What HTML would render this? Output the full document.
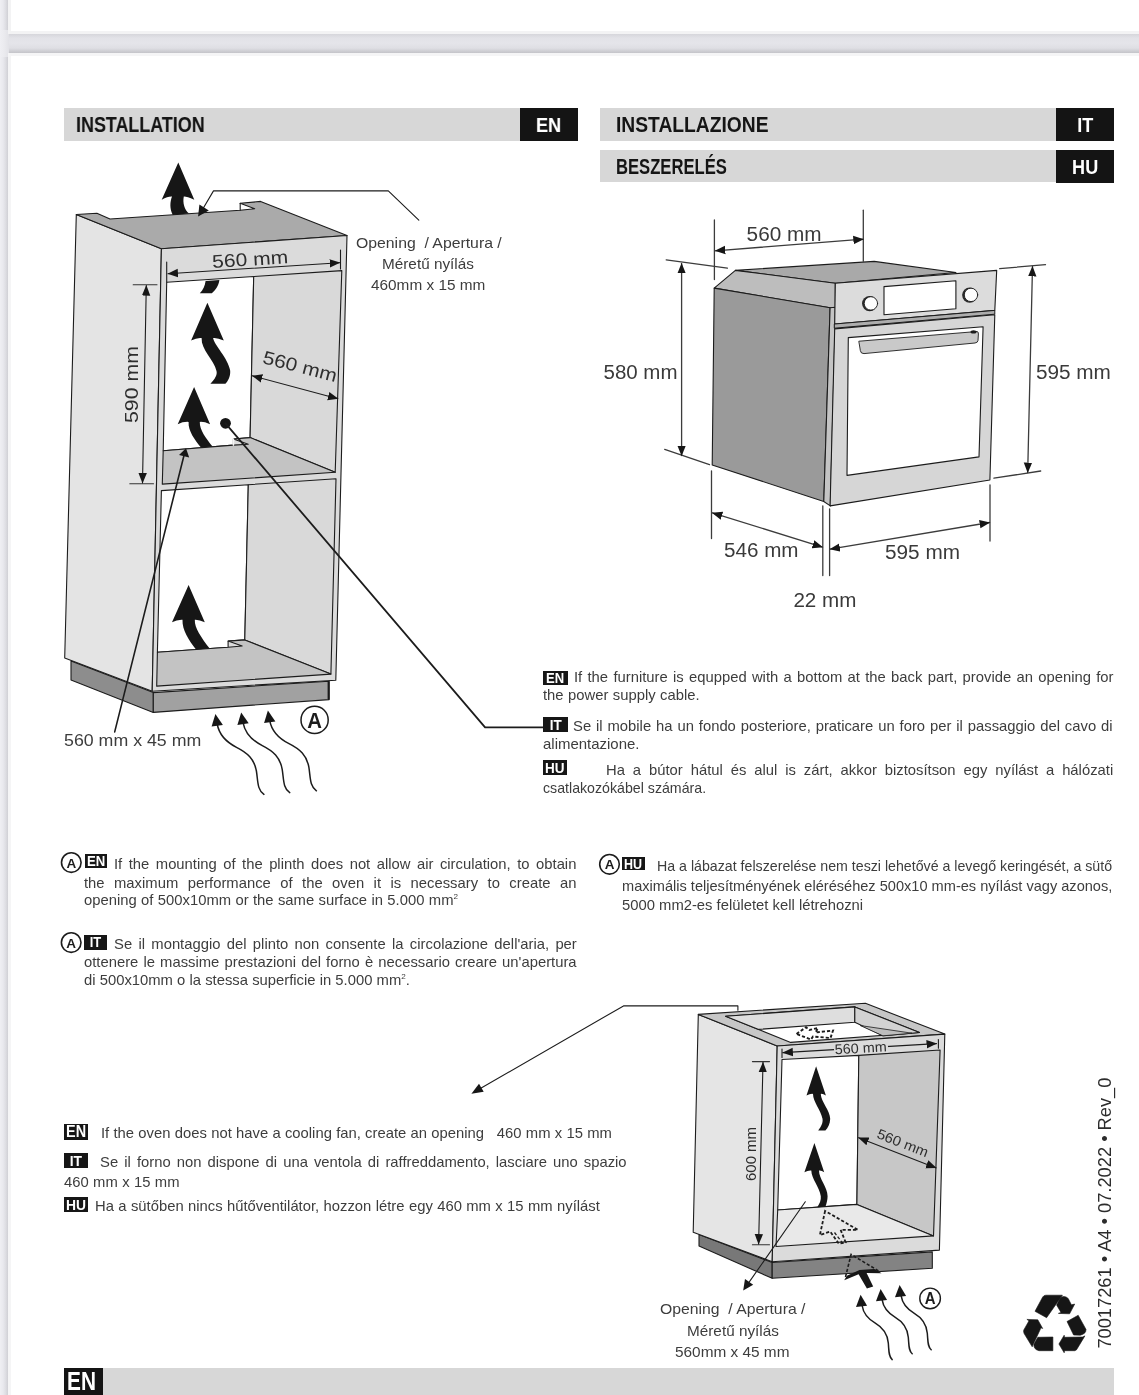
<!DOCTYPE html>
<html lang="en">
<head>
<meta charset="utf-8">
<title>Installation</title>
<style>
html,body{margin:0;padding:0;}
body{width:1139px;height:1395px;overflow:hidden;position:relative;background:#e7e7ec;font-family:"Liberation Sans",sans-serif;color:#3c3c3c;}
.pg{position:absolute;background:#fff;}
#pg1{left:8px;top:-20px;width:1140px;height:54px;box-shadow:0 0 0 0 #000;}
#pg2{left:8px;top:53px;width:1140px;height:1400px;}
.sh{position:absolute;pointer-events:none;}
.bar{position:absolute;background:#d7d7d7;height:33px;}
.bar b{position:absolute;left:13px;top:0;line-height:33px;font-size:22px;font-weight:bold;color:#151515;white-space:nowrap;transform-origin:0 50%;}
.tag{position:absolute;right:0;top:0;width:58px;height:33px;background:#141414;color:#fff;font-weight:bold;font-size:21px;line-height:33px;text-align:center;}
.tag span{display:inline-block;transform:scaleX(.86);}
.ln{position:absolute;white-space:nowrap;font-size:14.6px;line-height:20px;height:20px;color:#3d3d3d;transform-origin:0 0;}
.bd{position:absolute;background:#161616;color:#fff;font-weight:bold;font-size:13.5px;text-align:center;overflow:hidden;}
.bd span{display:inline-block;transform-origin:50% 50%;}
.ln sup{font-size:8px;line-height:0;vertical-align:6px;}
#content{position:absolute;left:0;top:0;width:1139px;height:1395px;filter:grayscale(1);}
svg{position:absolute;left:0;top:0;}
</style>
</head>
<body>
<div class="sh" style="left:0;top:0;width:8px;height:1395px;background:linear-gradient(to right,#efeff3 0,#e9e9ee 3px,#dcdce1 6px,#cfcfd4 8px);"></div>
<div class="sh" style="left:8px;top:34px;width:1131px;height:19px;background:linear-gradient(to bottom,#d6d6db 0,#e2e2e7 4px,#e5e5ea 9px,#dfdfe4 14px,#c4c4c9 19px);"></div>
<div class="sh" style="left:0;top:30px;width:9px;height:27px;background:linear-gradient(to right,#efeff3 0,#ebebef 4px,#e2e2e7 9px);"></div>
<div class="pg" id="pg1" style="border:3px solid #f3f3f4;box-sizing:border-box;"></div>
<div class="pg" id="pg2" style="border:3px solid #f5f5f6;box-sizing:border-box;"></div>
<div id="content">
<div class="bar" style="left:63.5px;top:107.6px;width:514.5px;"><b id="h1" style="left:12.8px;transform:scaleX(0.8136);">INSTALLATION</b><div class="tag"><span>EN</span></div></div>
<div class="bar" style="left:599.5px;top:107.6px;width:514.5px;"><b id="h2" style="left:16.4px;transform:scaleX(0.8746);">INSTALLAZIONE</b><div class="tag"><span>IT</span></div></div>
<div class="bar" style="left:599.5px;top:149.6px;width:514.5px;height:32.5px;"><b id="h3" style="left:16.4px;transform:scaleX(0.7559);">BESZERELÉS</b><div class="tag"><span>HU</span></div></div>
<div class="bar" style="left:63.5px;top:1367.5px;width:1050.5px;height:30px;"><div class="tag" style="left:0;right:auto;width:39px;height:30px;font-size:26px;line-height:27px;"><span style="transform:translateX(-1.5px) scaleX(.8);">EN</span></div></div>
<svg width="1139" height="1395" viewBox="0 0 1139 1395">
<defs>
<marker id="ah" viewBox="0 0 10 8" refX="9.5" refY="4" markerWidth="10.5" markerHeight="9.6" markerUnits="userSpaceOnUse" orient="auto-start-reverse"><path d="M0 0 L10 4 L0 8 Z" fill="#161616"/></marker>
<marker id="ahs" viewBox="0 0 10 8" refX="9.5" refY="4" markerWidth="9" markerHeight="7" markerUnits="userSpaceOnUse" orient="auto-start-reverse"><path d="M0 0 L10 4 L0 8 Z" fill="#161616"/></marker>
</defs>
<g id="cab1" stroke="#1c1c1c" stroke-width="1.1" stroke-linejoin="round" stroke-linecap="round" font-family="Liberation Sans, sans-serif">
<!-- plinth -->
<polygon points="71,661 153.3,692.6 153.3,712.4 71,680" fill="#8d8d8d"/>
<polygon points="153.3,692.6 329.1,681.2 329.1,699.6 153.3,712.4" fill="#a1a1a1"/>
<line x1="328.6" y1="682" x2="328.6" y2="699" stroke-width="2"/>
<!-- left side -->
<polygon points="76.3,214.5 161.4,248.7 152.2,691.2 64.7,658" fill="#e4e4e4"/>
<!-- top -->
<polygon points="76.3,214.5 96.9,213.2 110,219 240.2,210.2 254.7,208.7 240.2,203.3 260.6,201.4 347,235.5 161.4,248.7" fill="#aaaaaa"/>
<line x1="240.2" y1="203.3" x2="240.2" y2="210.2"/>
<!-- front face -->
<polygon points="161.4,248.7 347,235.5 335.8,680.3 152.2,691.2" fill="#dbdbdb"/>
<!-- upper opening -->
<polygon points="166.7,282.2 253.7,276.5 250.1,437.6 233.4,439 233.4,445.1 163.2,450.7" fill="#ffffff"/>
<polygon points="253.7,276.5 341.8,270.6 335.2,472.3 250.1,437.6" fill="#d9d9d9"/>
<polygon points="163.2,450.7 233.4,445.1 248.3,444.2 233.4,439 250.1,437.6 335.2,472.3 162.3,484.1" fill="#c3c3c3"/>
<line x1="233.4" y1="439" x2="233.4" y2="445.1" stroke="#f4f4f4" stroke-width="1.6"/>
<!-- lower opening -->
<polygon points="161.4,490.6 248.3,484.7 244.8,639.9 228.1,641.1 228.1,647.3 157.4,652.2" fill="#ffffff"/>
<polygon points="248.3,484.7 336,478.8 330.9,674.1 244.8,639.9" fill="#d9d9d9"/>
<polygon points="157.4,652.2 228.1,647.3 242.2,646 228.1,641.1 244.8,639.9 330.9,674.1 156.7,686.1" fill="#c3c3c3"/>
<!-- air arrows -->
<g fill="#161616" stroke="none">
<path d="M178.3 162.5 L194.3 199.8 Q186 196.2 183.8 196.6 C182.5 203 184.5 210 189 213.6 L172.8 215 C169.5 209 170 202 172 196.6 Q168 196.3 161.7 199.8 Z"/>
<path d="M205.6 281 L219.4 280.1 C218.5 286 215.5 290.5 211.8 293.2 L199.8 293.2 C203 290 205 286 205.6 281 Z"/>
<path d="M207.4 302.7 L223.8 340.6 Q217 337.5 213.1 338.1 C214 345 228 358 230.2 370.8 C230.5 377 228 381 225.4 383.8 L210.4 383.8 C215 379 217.5 375 216.5 371 C214 360 201 350 201.6 338.1 Q197 337.5 191.1 340.6 Z"/>
<path d="M194.1 386.9 L210.1 424.2 Q204 421.5 199.8 421.9 C199.5 430 206 438 212.5 446.6 L201 447.5 C195 440 188 431 188.6 421.9 Q183 421.6 177.7 424.2 Z"/>
<path d="M188.6 584.9 L204.8 622.3 Q199 619.4 194.8 619.7 C194.5 628 201 637 209.7 648.6 L196 649.6 C189 640 182 630 182.5 619.7 Q177 619.4 172 622.3 Z"/>
</g>
<circle cx="225.5" cy="423.3" r="5.4" fill="#161616" stroke="none"/>
<!-- dimension: 560 mm top -->
<line x1="166.7" y1="262" x2="166.7" y2="282"/>
<line x1="340.5" y1="250" x2="340.5" y2="269"/>
<line x1="168" y1="273.7" x2="339.7" y2="262.7" marker-start="url(#ah)" marker-end="url(#ah)"/>
<text transform="translate(250.5,265.6) rotate(-3.6)" text-anchor="middle" font-size="18.5" textLength="76" lengthAdjust="spacingAndGlyphs" fill="#2e2e2e" stroke="none">560 mm</text>
<!-- dimension: 590 mm -->
<line x1="133.2" y1="284.8" x2="157" y2="284.8" stroke="#333"/>
<line x1="129.8" y1="483.8" x2="153.5" y2="483.8" stroke="#333"/>
<line x1="146.3" y1="285.6" x2="142.5" y2="483" marker-start="url(#ah)" marker-end="url(#ah)"/>
<text transform="translate(137.5,384.5) rotate(-90)" text-anchor="middle" font-size="18.5" textLength="77" lengthAdjust="spacingAndGlyphs" fill="#2e2e2e" stroke="none">590 mm</text>
<!-- dimension: 560 diag -->
<line x1="252.3" y1="375.8" x2="337.9" y2="398.7" marker-start="url(#ah)" marker-end="url(#ah)"/>
<text transform="translate(298.5,372.5) rotate(14.5)" text-anchor="middle" font-size="18.5" textLength="76" lengthAdjust="spacingAndGlyphs" fill="#2e2e2e" stroke="none">560 mm</text>
<!-- leader lines -->
<polyline points="418.8,220.2 388.3,190.9 213.5,190.9 201,212" fill="none"/>
<polygon points="198.1,216.5 199.4,204.6 208.8,210.6" fill="#161616" stroke="none"/>
<line x1="114.7" y1="731.9" x2="184.6" y2="453" stroke-width="1.6"/>
<polygon points="186,448.3 179,455 189.2,457.4" fill="#161616" stroke="none"/>
<polyline points="225.5,423.3 485.1,727.4 543.5,727.4" fill="none" stroke-width="1.8"/>
<!-- bottom wavy arrows -->
<g>
<path d="M217.2 724 C219.5 737 228 743 236.5 747.3 C247.5 752.8 254.3 759 256.4 771 C258 781 257.2 790 263.9 794.4" fill="none" stroke-width="1.5"/>
<polygon points="215.4,714.1 222.9,725 211.6,726.6" fill="#161616" stroke="none"/>
</g>
<g transform="translate(25.8,-1.7)">
<path d="M217.2 724 C219.5 737 228 743 236.5 747.3 C247.5 752.8 254.3 759 256.4 771 C258 781 257.2 790 263.9 794.4" fill="none" stroke-width="1.5"/>
<polygon points="215.4,714.1 222.9,725 211.6,726.6" fill="#161616" stroke="none"/>
</g>
<g transform="translate(52.5,-3.6)">
<path d="M217.2 724 C219.5 737 228 743 236.5 747.3 C247.5 752.8 254.3 759 256.4 771 C258 781 257.2 790 263.9 794.4" fill="none" stroke-width="1.5"/>
<polygon points="215.4,714.1 222.9,725 211.6,726.6" fill="#161616" stroke="none"/>
</g>
<circle cx="314.6" cy="719.9" r="13.6" fill="#fff" stroke-width="1.5"/>
<text x="314.6" y="727.8" text-anchor="middle" font-size="22" font-weight="bold" textLength="14.7" lengthAdjust="spacingAndGlyphs" fill="#1c1c1c" stroke="none">A</text>
</g>
<g id="oven" stroke="#1c1c1c" stroke-width="1.1" stroke-linejoin="round" stroke-linecap="round" font-family="Liberation Sans, sans-serif">
<!-- top -->
<polygon points="735.4,270.4 874.2,261.4 956,272.5 835.3,283.2" fill="#a9a9a9"/>
<polygon points="714.2,288.1 735.4,270.4 835.3,283.2 835.3,307.4 830.1,307.7" fill="#bdbdbd"/>
<!-- left side -->
<polygon points="714.2,288.1 830.1,307.7 823.8,501.5 712.2,465" fill="#9a9a9a"/>
<!-- door side edge -->
<polygon points="830.1,307.7 835.3,307.2 835,329 830.3,505.9 823.8,501.5" fill="#c4c4c4"/>
<!-- control panel -->
<polygon points="835.3,283.2 996.7,270.4 994.8,310.4 834.7,324" fill="#dcdcdc"/>
<polygon points="834.7,324 994.8,310.4 994.8,314.2 834.7,328.2" fill="#adadad" stroke-width="1"/>
<!-- door -->
<polygon points="834.7,328.9 994.8,314.8 989.9,480 830.1,505.9" fill="#d6d6d6"/>
<polygon points="848.3,337.6 983.1,326.8 979,456.9 847,475.4" fill="#ffffff"/>
<!-- handle -->
<path d="M859.2 341.2 L977 331.5 Q978.5 331.6 978.4 334 L978 340.5 Q977.8 342.6 975 343 L864 353.6 Q860.8 353.8 860.4 351 Z" fill="#c9c9c9" stroke-width="0.9"/>
<ellipse cx="973.5" cy="331.9" rx="3" ry="1.6" fill="#1c1c1c" stroke="none"/>
<!-- display + knobs -->
<polygon points="884,286.6 955.9,280.7 955.9,308.7 884,314.7" fill="#ffffff"/>
<circle cx="869.6" cy="303.6" r="7.6" fill="#2a2a2a" stroke="none"/>
<circle cx="870.9" cy="303.4" r="6.7" fill="#fdfdfd" stroke-width="0.9"/>
<circle cx="969.7" cy="295.1" r="7.6" fill="#2a2a2a" stroke="none"/>
<circle cx="971" cy="294.9" r="6.7" fill="#fdfdfd" stroke-width="0.9"/>
<g stroke="#3c3c3c" stroke-width="1.3" fill="none">
<!-- ext lines top -->
<line x1="714.4" y1="219.9" x2="714.4" y2="279.5"/>
<line x1="863.3" y1="210.2" x2="863.3" y2="261.3"/>
<line x1="715.3" y1="250.8" x2="863.3" y2="239.2" marker-start="url(#ah)" marker-end="url(#ah)"/>
<!-- left -->
<line x1="666.2" y1="259.9" x2="727.4" y2="268.1"/>
<line x1="664.7" y1="449.3" x2="709.5" y2="464.7"/>
<line x1="681.6" y1="263.5" x2="681.6" y2="455.6" marker-start="url(#ah)" marker-end="url(#ah)"/>
<!-- right -->
<line x1="999.7" y1="268.6" x2="1045.5" y2="264.7"/>
<line x1="993.9" y1="478.2" x2="1040.7" y2="471"/>
<line x1="1032.5" y1="266.5" x2="1027.7" y2="472.5" marker-start="url(#ah)" marker-end="url(#ah)"/>
<!-- bottom -->
<line x1="711.5" y1="471" x2="711.5" y2="538.5"/>
<line x1="822.8" y1="506" x2="822.8" y2="575.6"/>
<line x1="829.6" y1="509" x2="829.6" y2="575.6"/>
<line x1="990" y1="485" x2="990" y2="541"/>
<line x1="712.4" y1="512.8" x2="822.5" y2="547.2" marker-start="url(#ah)" marker-end="url(#ah)"/>
<line x1="830" y1="549.2" x2="989.6" y2="522.5" marker-start="url(#ah)" marker-end="url(#ah)"/>
</g>
<g font-size="20" fill="#3a3a3a" stroke="none">
<text x="746.6" y="240.6" textLength="75" lengthAdjust="spacingAndGlyphs">560 mm</text>
<text x="603.5" y="378.8" textLength="74" lengthAdjust="spacingAndGlyphs">580 mm</text>
<text x="1035.9" y="378.8" textLength="75" lengthAdjust="spacingAndGlyphs">595 mm</text>
<text x="724" y="557.3" textLength="74.5" lengthAdjust="spacingAndGlyphs">546 mm</text>
<text x="885" y="559.2" textLength="75" lengthAdjust="spacingAndGlyphs">595 mm</text>
<text x="793.4" y="606.9" textLength="63" lengthAdjust="spacingAndGlyphs">22 mm</text>
</g>
</g>
<g id="cab2" stroke="#1c1c1c" stroke-width="1.1" stroke-linejoin="round" stroke-linecap="round" font-family="Liberation Sans, sans-serif">
<!-- plinth -->
<polygon points="699,1234.5 772.2,1262.5 772.2,1278.3 699,1246" fill="#787878"/>
<polygon points="772.2,1262.5 932.3,1251.9 932.3,1268.3 772.2,1278.3" fill="#838383"/>
<!-- left side -->
<polygon points="698.3,1014.4 777.2,1046 772.2,1261.7 693.2,1232.2" fill="#e5e5e5"/>
<!-- top frame -->
<polygon points="698.3,1014.4 865.4,1003.3 944.8,1034.1 777.2,1046" fill="#c7c7c7"/>
<polygon points="725.6,1016.3 854.8,1006.9 919.5,1032.5 790.7,1042.4" fill="#ffffff"/>
<polygon points="725.6,1016.3 854.8,1006.9 854.8,1022.3 758.7,1029.4" fill="#dedede"/>
<polygon points="854.8,1006.9 919.5,1032.5 883.2,1035.8 854.8,1022.3" fill="#d2d2d2"/>
<polygon points="860.7,1025.6 912,1033.2 883.2,1035.8" fill="#bdbdbd" stroke-width="0.8"/>
<path d="M796.5 1034 L806 1027.2 L809.5 1030 L818 1028 L815.5 1032.5 L833 1030.5 L830.5 1038 L813 1036.5 L811 1039.5 Z" fill="none" stroke-width="1.9" stroke-dasharray="3.2 2" stroke-linecap="butt" stroke-linejoin="miter"/>
<!-- front -->
<polygon points="777.2,1046 944.8,1034.1 939.4,1250.1 772.2,1261.7" fill="#dbdbdb"/>
<polygon points="782,1059.5 858.8,1055.4 856.9,1204.4 777.7,1210" fill="#ffffff"/>
<polygon points="858.8,1055.4 940.1,1050 933.5,1235.9 856.9,1204.4" fill="#c7c7c7"/>
<polygon points="777.7,1210 856.9,1204.4 933.5,1235.9 776,1246.5" fill="#e9e9e9"/>
<!-- air arrows -->
<g fill="#161616" stroke="none">
<path d="M816.1 1066.3 L825.9 1095.6 Q823 1093.6 820.8 1093.9 C821 1102 830 1110 830.2 1118.8 C830 1124 828 1128 825.4 1130.5 L818.2 1130.5 C821 1127 823.2 1123 822.5 1118.8 C821 1110 813 1102 813 1093.9 Q810 1093.6 806.5 1095.6 Z"/>
<path d="M814.4 1142.9 L824.2 1172.2 Q821.5 1170.2 819 1170.5 C819 1179 827.5 1187 827.6 1196.3 C827.6 1200 826.5 1204 825.4 1206.7 L817.3 1207.2 C819.5 1204 821.3 1200 820.8 1196.3 C819.5 1187 811.5 1179 811.3 1170.5 Q808 1170.2 804.4 1172.2 Z"/>
</g>
<!-- dashed arrows -->
<path d="M825.1 1210.9 L819.9 1235 L830.2 1231.6 L838.8 1243.6 L845.7 1242.4 L840.6 1229.8 L857.8 1229.8 Z" fill="none" stroke-width="1.8" stroke-dasharray="3.2 2" stroke-linecap="butt" stroke-linejoin="miter"/>
<path d="M834.5 1232.5 L842.5 1243" fill="none" stroke-width="1.3" stroke-dasharray="3.2 2" stroke-linecap="butt" stroke-linejoin="miter"/>
<path d="M845.5 1277 L851.1 1254.4 L880 1271.8" fill="none" stroke-width="1.6" stroke-dasharray="3.2 2" stroke-linecap="butt" stroke-linejoin="miter"/>
<path d="M844.2 1280.3 L846.9 1275.8 L859.5 1270 L874.3 1269 L881.6 1273.2 L866.6 1273 L873.2 1286.4 L866.9 1288.5 L858.6 1274.2 Z" fill="#161616" stroke="none"/>
<!-- 560 top dim -->
<line x1="782" y1="1049" x2="782" y2="1057.5"/>
<line x1="938.4" y1="1039.6" x2="938.4" y2="1048.3"/>
<line x1="782.9" y1="1052.6" x2="936.5" y2="1043.6" marker-start="url(#ah)" marker-end="url(#ah)"/>
<rect x="834" y="1042" width="54" height="12" fill="#dbdbdb" stroke="none" transform="rotate(-3.4 861 1048)"/>
<text transform="translate(861,1052.8) rotate(-3.4)" text-anchor="middle" font-size="14" textLength="52" lengthAdjust="spacingAndGlyphs" fill="#2e2e2e" stroke="none">560 mm</text>
<!-- 600 dim -->
<line x1="752.4" y1="1061.6" x2="769.5" y2="1061.6" stroke="#333"/>
<line x1="752.4" y1="1244.8" x2="769.5" y2="1244.8" stroke="#333"/>
<line x1="763" y1="1062.4" x2="758.6" y2="1244" marker-start="url(#ah)" marker-end="url(#ah)"/>
<text transform="translate(755.5,1154) rotate(-90)" text-anchor="middle" font-size="14" textLength="54" lengthAdjust="spacingAndGlyphs" fill="#2e2e2e" stroke="none">600 mm</text>
<!-- diag 560 -->
<line x1="858.6" y1="1137.8" x2="936.1" y2="1167.9" marker-start="url(#ah)" marker-end="url(#ah)"/>
<text transform="translate(901,1147.5) rotate(21.5)" text-anchor="middle" font-size="14" textLength="54" lengthAdjust="spacingAndGlyphs" fill="#2e2e2e" stroke="none">560 mm</text>
<!-- leader lines -->
<polyline points="737.9,1010.3 737.9,1005.9 623.5,1005.9 476,1091" fill="none"/>
<polygon points="471.4,1093.8 479,1083.7 483.7,1091.8" fill="#161616" stroke="none"/>
<line x1="805.3" y1="1201.8" x2="746" y2="1286.6"/>
<polygon points="743.2,1290.6 745,1279 753.2,1284.8" fill="#161616" stroke="none"/>
<!-- wavy arrows -->
<g>
<path d="M862.1 1305.5 C863.5 1315 869 1319.5 875.3 1323.2 C883.5 1328 887.5 1334 888.3 1343 C889 1351 888.5 1356.5 892.2 1359.6" fill="none" stroke-width="1.5"/>
<polygon points="860.6,1294.8 867.1,1305.7 856,1307.1" fill="#161616" stroke="none"/>
</g>
<g transform="translate(20,-5.8)">
<path d="M862.1 1305.5 C863.5 1315 869 1319.5 875.3 1323.2 C883.5 1328 887.5 1334 888.3 1343 C889 1351 888.5 1356.5 892.2 1359.6" fill="none" stroke-width="1.5"/>
<polygon points="860.6,1294.8 867.1,1305.7 856,1307.1" fill="#161616" stroke="none"/>
</g>
<g transform="translate(39,-9.8)">
<path d="M862.1 1305.5 C863.5 1315 869 1319.5 875.3 1323.2 C883.5 1328 887.5 1334 888.3 1343 C889 1351 888.5 1356.5 892.2 1359.6" fill="none" stroke-width="1.5"/>
<polygon points="860.6,1294.8 867.1,1305.7 856,1307.1" fill="#161616" stroke="none"/>
</g>
<circle cx="930.1" cy="1298.4" r="10.3" fill="#fff" stroke-width="1.4"/>
<text x="930.1" y="1304" text-anchor="middle" font-size="15.7" font-weight="bold" textLength="10.8" lengthAdjust="spacingAndGlyphs" fill="#1c1c1c" stroke="none">A</text>
</g>
<g id="misc" font-family="Liberation Sans, sans-serif">
<text transform="translate(1111,1348.6) rotate(-90)" font-size="18.5" textLength="271" lengthAdjust="spacingAndGlyphs" fill="#2c2c2c">70017261 •  A4 • 07.2022 • Rev_0</text>
<g fill="#161616" stroke="#161616" stroke-width="0.6" stroke-linejoin="round">
<path d="M1035 1311.3 L1042.7 1297 Q1043.8 1295.2 1045.9 1295.2 L1062.4 1295.2 L1046.6 1317.7 Z"/>
<path d="M1056.6 1305 L1060.3 1298 Q1064.2 1294.8 1068.2 1298.5 L1071.4 1304.8 L1074.7 1304.1 L1069.6 1313.8 L1058.4 1313.4 L1061 1312.4 Z"/>
<path d="M1067 1321.5 L1078.2 1315.3 L1085.9 1329.2 Q1086.6 1333.5 1080.3 1335.2 L1073.6 1335 Z"/>
<path d="M1064.2 1335.2 L1058.9 1344 L1064.2 1352.8 L1064.5 1350.7 L1074.7 1350.7 Q1076.8 1350.2 1077.5 1348.2 L1084.9 1335.9 L1082.4 1337 L1064.5 1337.3 Z"/>
<path d="M1052.9 1337 L1052.9 1350.7 L1038.9 1350.7 Q1033 1349 1034 1344 L1037.8 1337.3 Z"/>
<path d="M1026.9 1319.4 L1037.8 1319.8 L1042.7 1328.5 L1041 1327.8 L1032.2 1346.8 L1024.1 1333.5 Q1023.2 1331 1023.8 1329.9 L1029 1320.8 Z"/>
</g>
<g stroke="#1c1c1c" stroke-width="1.6" fill="#fff">
<circle cx="71.3" cy="862.6" r="9.8"/><circle cx="71.2" cy="942.6" r="9.8"/><circle cx="609.5" cy="864.3" r="9.8"/>
</g>
<g font-size="13.5" font-weight="bold" fill="#1c1c1c" text-anchor="middle">
<text x="71.3" y="867.5">A</text><text x="71.2" y="947.5">A</text><text x="609.5" y="869.2">A</text>
</g>
</g>
</svg>
<div class="ln" id="c1" style="left:573.5px;top:667.44px;transform:scaleX(1.0150);word-spacing:1.145px;">If the furniture is equpped with a bottom at the back part, provide an opening for</div>
<div class="ln" id="c2" style="left:543.2px;top:685.04px;transform:scaleX(1.0150);word-spacing:0.319px;">the power supply cable.</div>
<div class="ln" id="c3" style="left:573.4px;top:715.54px;transform:scaleX(1.0150);word-spacing:0.774px;">Se il mobile ha un fondo posteriore, praticare un foro per il passaggio del cavo di</div>
<div class="ln" id="c4" style="left:543.2px;top:733.74px;transform:scaleX(1.0254);word-spacing:0.000px;">alimentazione.</div>
<div class="ln" id="c5" style="left:605.8px;top:759.74px;transform:scaleX(1.0150);word-spacing:3.744px;">Ha a bútor hátul és alul is zárt, akkor biztosítson egy nyílást a hálózati</div>
<div class="ln" id="c6" style="left:542.8px;top:777.74px;transform:scaleX(0.9713);word-spacing:0.000px;">csatlakozókábel számára.</div>
<div class="ln" id="a1" style="left:114.2px;top:853.54px;transform:scaleX(1.0150);word-spacing:2.336px;">If the mounting of the plinth does not allow air circulation, to obtain</div>
<div class="ln" id="a2" style="left:84.2px;top:872.54px;transform:scaleX(1.0150);word-spacing:5.240px;">the maximum performance of the oven it is necessary to create an</div>
<div class="ln" id="a3" style="left:84.2px;top:890.44px;transform:scaleX(1.0150);word-spacing:0.247px;">opening of 500x10mm or the same surface in 5.000 mm<sup>2</sup></div>
<div class="ln" id="b1" style="left:113.8px;top:933.64px;transform:scaleX(1.0150);word-spacing:2.157px;">Se il montaggio del plinto non consente la circolazione dell'aria, per</div>
<div class="ln" id="b2" style="left:84.0px;top:952.04px;transform:scaleX(1.0150);word-spacing:0.977px;">ottenere le massime prestazioni del forno è necessario creare un'apertura</div>
<div class="ln" id="b3" style="left:84.0px;top:969.54px;transform:scaleX(1.0150);word-spacing:0.034px;">di 500x10mm o la stessa superficie in 5.000 mm<sup>2</sup>.</div>
<div class="ln" id="d1" style="left:657.2px;top:856.14px;transform:scaleX(0.9722);word-spacing:0.000px;">Ha a lábazat felszerelése nem teszi lehetővé a levegő keringését, a sütő</div>
<div class="ln" id="d2" style="left:622.0px;top:876.34px;transform:scaleX(0.9991);word-spacing:0.000px;">maximális teljesítményének eléréséhez 500x10 mm-es nyílást vagy azonos,</div>
<div class="ln" id="d3" style="left:622.0px;top:894.64px;transform:scaleX(1.0144);word-spacing:0.000px;">5000 mm2-es felületet kell létrehozni</div>
<div class="ln" id="e1" style="left:101.0px;top:1122.74px;transform:scaleX(1.0150);word-spacing:0.155px;">If the oven does not have a cooling fan, create an opening&nbsp;&nbsp; 460 mm x 15 mm</div>
<div class="ln" id="e2" style="left:100.4px;top:1151.74px;transform:scaleX(1.0150);word-spacing:1.948px;">Se il forno non dispone di una ventola di raffreddamento, lasciare uno spazio</div>
<div class="ln" id="e3" style="left:63.7px;top:1171.84px;transform:scaleX(1.0150);word-spacing:0.265px;">460 mm x 15 mm</div>
<div class="ln" id="e4" style="left:94.6px;top:1195.54px;transform:scaleX(1.0150);word-spacing:0.256px;">Ha a sütőben nincs hűtőventilátor, hozzon létre egy 460 mm x 15 mm nyílást</div>
<div class="ln" id="l1" style="left:355.5px;top:232.50px;font-size:15px;transform:scaleX(1.0526);">Opening&nbsp; / Apertura /</div>
<div class="ln" id="l2" style="left:382.4px;top:253.50px;font-size:15px;transform:scaleX(1.0206);">Méretű nyílás</div>
<div class="ln" id="l3" style="left:370.8px;top:274.80px;font-size:15px;transform:scaleX(1.0232);">460mm x 15 mm</div>
<div class="ln" id="m1" style="left:659.7px;top:1299.40px;font-size:15px;transform:scaleX(1.0504);">Opening&nbsp; / Apertura /</div>
<div class="ln" id="m2" style="left:686.5px;top:1321.30px;font-size:15px;transform:scaleX(1.0206);">Méretű nyílás</div>
<div class="ln" id="m3" style="left:674.8px;top:1342.40px;font-size:15px;transform:scaleX(1.0250);">560mm x 45 mm</div>
<div class="ln" id="g1" style="left:64.1px;top:727.61px;font-size:17.3px;line-height:24px;height:24px;transform:scaleX(1.0286);">560 mm x 45 mm</div>
<div class="bd" style="left:543.2px;top:670.8px;width:24.5px;height:14.5px;line-height:15.0px;font-size:14.5px;"><span style="transform:scaleX(.9);">EN</span></div>
<div class="bd" style="left:543.2px;top:717.4px;width:24.5px;height:15.0px;line-height:15.5px;font-size:15.0px;"><span style="transform:scaleX(.9);">IT</span></div>
<div class="bd" style="left:542.6px;top:759.6px;width:24.2px;height:15.0px;line-height:15.5px;font-size:15.0px;"><span style="transform:scaleX(.9);">HU</span></div>
<div class="bd" style="left:84.5px;top:853.8px;width:22.7px;height:14.6px;line-height:15.1px;font-size:14.6px;"><span style="transform:scaleX(.9);">EN</span></div>
<div class="bd" style="left:84.0px;top:935.2px;width:22.8px;height:14.4px;line-height:14.9px;font-size:14.4px;"><span style="transform:scaleX(.9);">IT</span></div>
<div class="bd" style="left:622.0px;top:856.6px;width:22.8px;height:13.9px;line-height:14.4px;font-size:13.9px;"><span style="transform:scaleX(.9);">HU</span></div>
<div class="bd" style="left:63.7px;top:1123.7px;width:24.5px;height:16.0px;line-height:16.5px;font-size:16.0px;"><span style="transform:scaleX(.9);">EN</span></div>
<div class="bd" style="left:63.7px;top:1152.7px;width:24.5px;height:15.4px;line-height:15.9px;font-size:15.4px;"><span style="transform:scaleX(.9);">IT</span></div>
<div class="bd" style="left:63.7px;top:1197.1px;width:24.5px;height:15.4px;line-height:15.9px;font-size:15.4px;"><span style="transform:scaleX(.9);">HU</span></div>
</div>
</body>
</html>
